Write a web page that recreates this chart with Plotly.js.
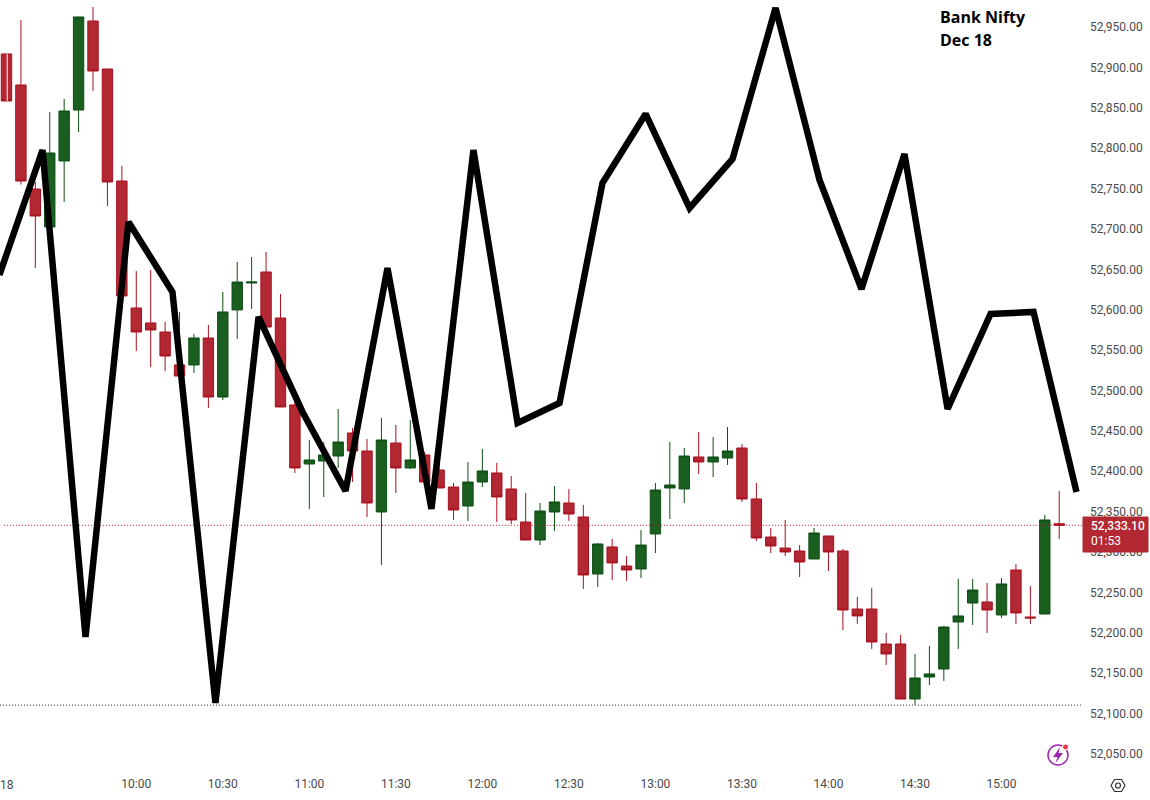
<!DOCTYPE html>
<html>
<head>
<meta charset="utf-8">
<script src="https://cdn.plot.ly/plotly-3.0.0.min.js"></script>
<style>html,body{margin:0;padding:0;background:#fff}#chart{width:1150px;height:800px}</style>
</head>
<body>
<div id="chart"></div>
<script>
// Five-minute candles, Bank Nifty, 18 Dec, 09:15 to 15:20 (index 0 = 09:15)
const openPrices = [
  52916.6,52878.2,52749.4,52702.4,52784.1,52847.2,52957.4,52898,52759.3,52602.1,
  52583.6,52572.4,52531.6,52531.6,52565,52491.9,52599.7,52633.1,52646.7,52589.7,
  52482.1,52409,52412.7,52418.9,52447.4,52425.1,52349.6,52435,52404.1,52420.2,
  52401.6,52380.5,52357,52386.7,52397.9,52378.1,52337.2,52314.9,52349.6,52360.7,
  52343.4,52272.8,52306.3,52282.7,52279,52322.4,52379.3,52378.1,52417.7,52411.5,
  52416.4,52428.8,52365.7,52318.6,52305,52301.3,52291.4,52319.9,52301.3,52229.5,
  52229.5,52186.2,52186.2,52118.1,52145.3,52155.2,52213.4,52236.9,52238.2,52222.1,
  52277.8,52219.6,52223.3,52335];
const highPrices = [
  52916.6,52958.6,52758.1,52844.8,52860.8,52962.4,52974.7,52898,52777.9,52647.9,
  52649.2,52584.8,52597.2,52569.9,52581.1,52621.9,52659.1,52665.3,52671.4,52619.5,
  52494.4,52438.7,52436.2,52477.1,52453.6,52440,52466,52457.3,52463.5,52423.9,
  52420.2,52385.5,52411.5,52427.6,52410.3,52394.2,52373.1,52360.7,52381.8,52378.1,
  52358.3,52311.2,52316.2,52295.1,52327.3,52385.5,52436.2,52428.8,52448.6,52442.4,
  52454.8,52433.8,52385.5,52329.8,52339.7,52308.7,52329.8,52319.9,52303.8,52244.4,
  52255.5,52199.8,52197.3,52173.8,52183.7,52208.5,52266.7,52266.7,52261.7,52267.9,
  52285.2,52258,52345.9,52375.6];
const lowPrices = [
  52858.4,52755,52651.6,52702.4,52733.3,52820,52870.8,52728.4,52617,52548.9,
  52529.1,52524.1,52517.9,52521.7,52478.3,52488.2,52563.8,52600.9,52578.6,52479.6,
  52397.9,52353.3,52368.2,52404.1,52386.7,52343.4,52284,52373.1,52402.8,52386.7,
  52379.3,52339.7,52338.5,52380.5,52337.2,52334.7,52314.9,52308.7,52326.1,52338.5,
  52254.3,52256.7,52265.4,52264.2,52267.9,52298.8,52340.9,52360.7,52396.6,52392.9,
  52407.8,52362,52313.7,52298.8,52295.1,52269.1,52291.4,52276.6,52203.5,52211,
  52180,52160.2,52118.1,52110.7,52135.4,52140.4,52180,52209.7,52199.8,52218.4,
  52211,52211,52223.3,52316.2];
const closePrices = [
  52858.4,52759.3,52716,52794,52846,52962.4,52895.5,52758.1,52617,52572.4,
  52574.9,52542.7,52517.9,52565,52491.9,52597.2,52634.3,52634.3,52578.6,52479.6,
  52404.1,52414,52420.2,52436.2,52425.1,52360.7,52438.7,52404.1,52414,52386.7,
  52379.3,52352.1,52386.7,52400.4,52368.2,52339.7,52314.9,52350.8,52362,52347.1,
  52271.6,52310,52286.5,52277.8,52308.7,52376.8,52383,52418.9,52411.5,52417.7,
  52425.1,52365.7,52317.4,52307.5,52300.1,52287.7,52323.6,52300.1,52228.3,52220.9,
  52188.7,52173.8,52118.1,52144.1,52149.1,52207.2,52220.9,52253,52228.3,52260.5,
  52224.6,52218.4,52339.7,52333.1];

// Hand-drawn black line laid over the candles
const overlayIndex = [-0.49,2.5,5.48,8.46,11.51,14.49,17.48,20.53,23.51,26.42,29.47,32.38,35.44,
  38.35,41.33,44.32,47.37,50.35,53.33,56.38,59.29,62.27,65.26,68.24,71.22,74.2];
const overlayPrice = [52643,52797.7,52194.9,52708.6,52621.9,52113.2,52591,52473.4,52375.6,52651.6,
  52353.3,52797.7,52459.8,52484.5,52756.9,52842.3,52725.9,52786.6,52973.5,52760.6,52625.6,52792.8,
  52477.1,52594.7,52597.2,52374.4];

const timeTickIndex = [9,15,21,27,33,39,45,51,57,63,69];
const timeTickLabels = ["10:00","10:30","11:00","11:30","12:00","12:30","13:00","13:30","14:00","14:30","15:00"];
const dayLabel = "18";
const lastPrice = 52333.1;
const dayLow = 52110.5;
const lastPriceLabel = "52,333.10";
const countdownLabel = "01:53";
const titleLines = ["Bank Nifty","Dec 18"];

const W = 1150, H = 800, plotW = 1083, plotH = 775;
const px = v => v / plotW;
const py = v => 1 - v / plotH;
const candleIndex = openPrices.map((_, i) => i);

const traces = [
  {type:"candlestick", x:candleIndex, open:openPrices, high:highPrices, low:lowPrices, close:closePrices,
   whiskerwidth:0, showlegend:false, hoverinfo:"skip",
   increasing:{line:{color:"#0e4f14",width:1},fillcolor:"#1a5e20"},
   decreasing:{line:{color:"#a8101f",width:1},fillcolor:"#b22833"}},
  {type:"scatter", mode:"lines", x:[-0.18,74.65], y:[lastPrice,lastPrice], hoverinfo:"skip", showlegend:false,
   line:{color:"#c0101f",width:1,dash:"1px 2px"}},
  {type:"scatter", mode:"lines", x:[-0.45,74.55], y:[dayLow,dayLow], hoverinfo:"skip", showlegend:false,
   line:{color:"#333333",width:1,dash:"1px 2px"}},
  {type:"scatter", mode:"lines", x:overlayIndex, y:overlayPrice, hoverinfo:"skip", showlegend:false,
   line:{color:"#000000",width:6.5}}
];

function pathOf(points){
  return "M" + points.map(p => px(p[0]) + "," + py(p[1])).join("L") + "Z";
}
const hexIcon = [[1111,785.5],[1114.5,779.5],[1121.5,779.5],[1125,785.5],[1121.5,791.5],[1114.5,791.5]];
const boltIcon = [[1060,747],[1053,757],[1057.5,757],[1055.5,763],[1063,753],[1058.5,753]];

const layout = {
  width:W, height:H, autosize:false, showlegend:false,
  paper_bgcolor:"#ffffff", plot_bgcolor:"#ffffff",
  boxgap:0.28, boxgroupgap:0,
  margin:{l:0,r:W-plotW,t:0,b:H-plotH,pad:0},
  font:{family:"Roboto, 'Liberation Sans', sans-serif",size:12,color:"#4a4a4a"},
  xaxis:{range:[-0.45,74.65],type:"linear",rangeslider:{visible:false},showgrid:false,zeroline:false,showline:false,
    ticks:"",tickmode:"array",tickvals:timeTickIndex,ticktext:timeTickLabels,tickfont:{size:12,color:"#4a4a4a"},automargin:false},
  yaxis:{range:[52024,52983.4],side:"right",showgrid:false,zeroline:false,showline:false,ticks:"",
    tick0:52050,dtick:50,tickformat:",.2f",ticklabelstandoff:6,tickfont:{size:12,color:"#4a4a4a"},automargin:false},
  shapes:[
    {type:"line",xref:"x",yref:"paper",x0:0.05,x1:0.05,y0:py(54),y1:py(101),line:{color:"#ffffff",width:1},layer:"above"},
    {type:"rect",xref:"paper",yref:"paper",x0:px(1083),x1:px(1148),y0:py(517),y1:py(552),fillcolor:"#b22833",line:{color:"#b22833",width:1},layer:"above"},
    {type:"circle",xref:"paper",yref:"paper",x0:px(1048),x1:px(1068),y0:py(745),y1:py(765),fillcolor:"rgba(0,0,0,0)",line:{color:"#9c27b0",width:1.5},layer:"above"},
    {type:"path",xref:"paper",yref:"paper",path:pathOf(boltIcon),fillcolor:"#9c27b0",line:{width:0},layer:"above"},
    {type:"circle",xref:"paper",yref:"paper",x0:px(1062.5),x1:px(1068.5),y0:py(744),y1:py(750),fillcolor:"#f23645",line:{color:"#ffffff",width:1},layer:"above"},
    {type:"path",xref:"paper",yref:"paper",path:pathOf(hexIcon),fillcolor:"rgba(0,0,0,0)",line:{color:"#333333",width:1.2},layer:"above"},
    {type:"circle",xref:"paper",yref:"paper",x0:px(1115.5),x1:px(1120.5),y0:py(783),y1:py(788),fillcolor:"rgba(0,0,0,0)",line:{color:"#333333",width:1.2},layer:"above"}
  ],
  annotations:[
    {text:dayLabel,xref:"paper",yref:"paper",x:px(6.5),y:py(785),xanchor:"center",yanchor:"middle",showarrow:false,
     font:{size:12,color:"#4a4a4a"}},
    {text:titleLines[0],xref:"paper",yref:"paper",x:px(938),y:py(17),xanchor:"left",yanchor:"middle",showarrow:false,
     font:{family:"'Open Sans', sans-serif",size:16,color:"#000000",weight:700}},
    {text:titleLines[1],xref:"paper",yref:"paper",x:px(938),y:py(40),xanchor:"left",yanchor:"middle",showarrow:false,
     font:{family:"'Open Sans', sans-serif",size:16,color:"#000000",weight:700}},
    {text:lastPriceLabel,xref:"paper",yref:"paper",x:px(1089),y:py(526),xanchor:"left",yanchor:"middle",showarrow:false,
     font:{size:12,color:"#ffffff",weight:500}},
    {text:countdownLabel,xref:"paper",yref:"paper",x:px(1089),y:py(541),xanchor:"left",yanchor:"middle",showarrow:false,
     font:{size:12,color:"#ffffff"}}
  ]
};
Plotly.newPlot("chart",traces,layout,{displayModeBar:false,staticPlot:true});
</script>
</body>
</html>
